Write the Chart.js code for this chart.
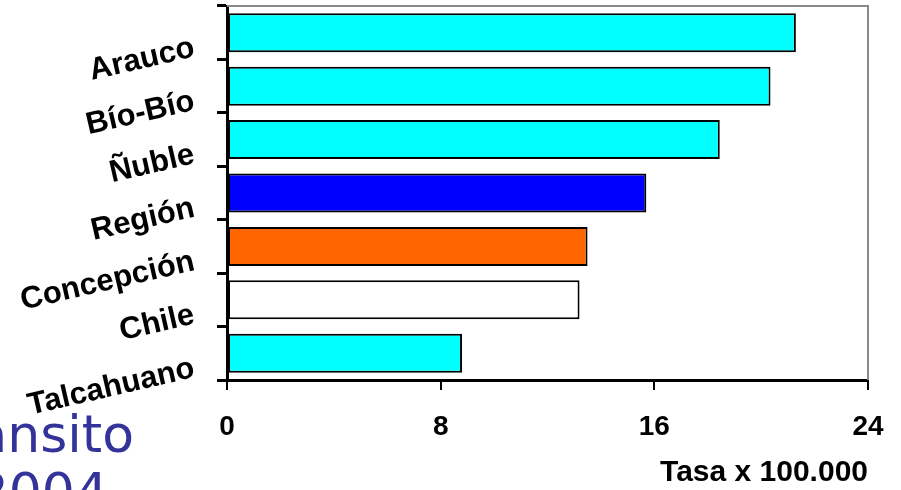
<!DOCTYPE html>
<html>
<head>
<meta charset="utf-8">
<script src="https://cdn.jsdelivr.net/npm/chart.js@4/dist/chart.umd.min.js"></script>
<style>
  body { margin: 0; background: #fff; }
  .wrap { width: 901px; height: 490px; position: relative; }
</style>
</head>
<body>
<div class="wrap"><canvas id="chartTasa"></canvas></div>
<script>
const categories = ['Arauco', 'Bío-Bío', 'Ñuble', 'Región', 'Concepción', 'Chile', 'Talcahuano'];
const tasas = [21.3, 20.35, 18.45, 15.7, 13.5, 13.2, 8.8];
const xTicks = [0, 8, 16, 24];
const barColors = ['#00ffff', '#00ffff', '#00ffff', '#0000ff', '#ff6600', '#ffffff', '#00ffff'];

// gray frame on top/right + cut-off slide text in the corner
const decor = {
  id: 'decor',
  afterDraw(chart) {
    const { ctx, chartArea } = chart;
    ctx.save();
    ctx.strokeStyle = '#888888';
    ctx.lineWidth = 2;
    ctx.beginPath();
    ctx.moveTo(chartArea.left, chartArea.top);
    ctx.lineTo(chartArea.right, chartArea.top);
    ctx.lineTo(chartArea.right, chartArea.bottom);
    ctx.stroke();

    ctx.fillStyle = '#333399';
    ctx.font = '52px "DejaVu Sans"';
    ctx.textAlign = 'right';
    ctx.textBaseline = 'alphabetic';
    ctx.fillText('Tránsito', 134, 452);
    ctx.fillText('2004', 108, 510);
    ctx.restore();
  },
};

const canvas = document.getElementById('chartTasa').getContext('2d');

new Chart(canvas, {
  type: 'bar',
  data: {
    labels: categories,
    datasets: [
      {
        data: tasas,
        backgroundColor: barColors,
        borderColor: '#000',
        borderWidth: 2,
        borderSkipped: false,
        barPercentage: 0.73,
        categoryPercentage: 1,
      },
    ],
  },
  options: {
    indexAxis: 'y',
    responsive: true,
    maintainAspectRatio: false,
    animation: false,
    layout: { padding: { top: 6, right: 33, left: 0, bottom: 0 } },
    plugins: {
      legend: { display: false },
      tooltip: { enabled: false },
    },
    scales: {
      x: {
        min: 0,
        max: 24,
        afterBuildTicks: s => {
          s.ticks = xTicks.map(v => ({ value: v }));
        },
        afterFit: s => {
          s.height = 110;
          s.paddingLeft = 0;
          s.paddingRight = 0;
        },
        grid: {
          drawOnChartArea: false,
          drawTicks: true,
          tickLength: 10,
          color: '#000',
          lineWidth: 2,
        },
        border: { display: true, color: '#000', width: 3 },
        ticks: {
          color: '#000',
          padding: 20,
          font: { family: 'Liberation Sans', size: 28, weight: 'bold' },
        },
        title: {
          display: true,
          text: 'Tasa x 100.000',
          align: 'end',
          color: '#000',
          padding: { top: 0, bottom: -1 },
          font: { family: 'Liberation Sans', size: 30, weight: 'bold' },
        },
      },
      y: {
        afterFit: s => {
          s.width = 227;
          s.paddingTop = 0;
          s.paddingBottom = 0;
        },
        grid: {
          drawOnChartArea: false,
          drawTicks: true,
          tickLength: 10,
          color: '#000',
          lineWidth: 3,
        },
        border: { display: true, color: '#000', width: 3 },
        ticks: {
          color: '#000',
          autoSkip: false,
          minRotation: 13,
          maxRotation: 13,
          padding: 23,
          labelOffset: 15,
          font: { family: 'Liberation Sans', size: 31, weight: 'bold' },
        },
      },
    },
  },
  plugins: [decor],
});
</script>
</body>
</html>
